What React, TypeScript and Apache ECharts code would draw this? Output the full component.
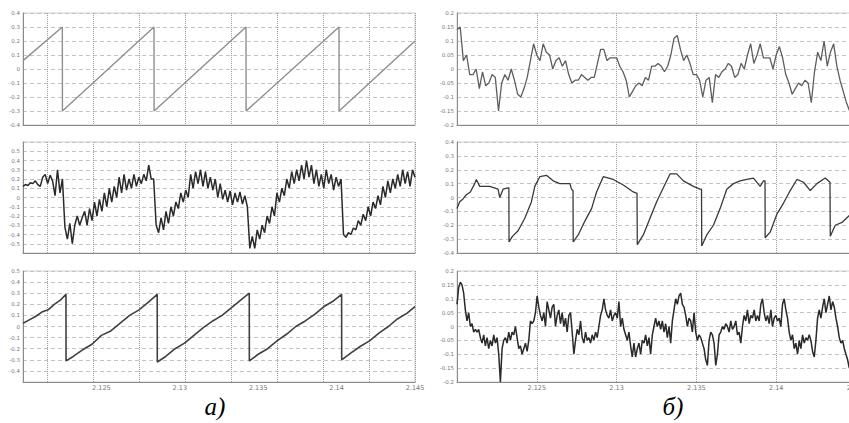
import React, { useEffect, useRef } from 'react';
import * as echarts from 'echarts';

// ---- axis extents ----
const tStart = 2.12;
const tEnd = 2.145;
const tStep = 0.005;

// spacing of the dotted vertical grid of the left (а) column, counted back from its right edge (s)
const leftGridStep = 0.002934;

// ---- а) top: ideal sawtooth ----
const l1T = [2.12, 2.122509, 2.122515, 2.128355, 2.128361, 2.134222, 2.134228, 2.140154, 2.14016, 2.145];
const l1V = [0.06, 0.3, -0.3, 0.3, -0.3, 0.3, -0.3, 0.3, -0.3, 0.2];

// ---- а) middle: noisy sawtooth (uniform samples over 2.12..2.145) ----
const l2V = [
  0.12, 0.14, 0.13, 0.16, 0.15, 0.18, 0.14, 0.12,
  0.22, 0.25, 0.15, 0.24,
  0.18, 0.02, 0.3, 0.05, 0.2,
  -0.32, -0.45, -0.28, -0.5, -0.3, -0.2, -0.3, -0.22, -0.15, -0.3, -0.12, -0.25, -0.05,
  -0.2, -0.02, -0.15, 0.05, -0.1, 0.1, -0.05, 0.12, 0.0, 0.22, 0.05, 0.25, 0.08, 0.2, 0.1, 0.25, 0.12, 0.22, 0.15, 0.25, 0.18, 0.35, 0.2, 0.2,
  -0.3, -0.38, -0.22, -0.35, -0.15, -0.28, -0.1, -0.2, -0.05, -0.12, 0.05, -0.05, 0.08, 0.0,
  0.25, 0.1, 0.28, 0.15, 0.3, 0.12, 0.28, 0.1, 0.22, 0.08, 0.2, 0.0, 0.15, -0.02, 0.08, -0.05, 0.07, -0.08, 0.05, -0.05, 0.06, -0.07, 0.02, -0.1,
  -0.55, -0.42, -0.55, -0.35, -0.45, -0.3, -0.38, -0.2, -0.28, -0.1, -0.2, 0.05, -0.05, 0.1, 0.02,
  0.2, 0.1, 0.28, 0.15, 0.3, 0.18, 0.35, 0.2, 0.4, 0.22, 0.35, 0.15, 0.3, 0.12, 0.25, 0.1, 0.3, 0.15, 0.25, 0.08, 0.22, 0.12, 0.2,
  -0.4, -0.43, -0.38, -0.4, -0.33, -0.35, -0.25, -0.3, -0.18, -0.25, -0.1, -0.2, -0.05, -0.12, 0.02, -0.08, 0.12, 0.0, 0.18, 0.05, 0.2, 0.1, 0.25, 0.12, 0.3, 0.15, 0.28, 0.12, 0.3, 0.22,
];

// ---- а) bottom: sawtooth with small ripple ----
const l3T = [
  2.12, 2.1204, 2.1208, 2.1212, 2.1216, 2.122, 2.1224, 2.12274, 2.122745,
  2.1232, 2.1238, 2.1244, 2.125, 2.1256, 2.1262, 2.1268, 2.1274, 2.128, 2.12856, 2.128565,
  2.1291, 2.1297, 2.1303, 2.1309, 2.1315, 2.1321, 2.1327, 2.1333, 2.1339, 2.13443, 2.134435,
  2.135, 2.1356, 2.1362, 2.1368, 2.1374, 2.138, 2.1386, 2.1392, 2.1398, 2.14032, 2.140325,
  2.1409, 2.1415, 2.1421, 2.1427, 2.1433, 2.1439, 2.1445, 2.145,
];
const l3V = [
  0.03, 0.06, 0.09, 0.13, 0.15, 0.2, 0.24, 0.29, -0.31,
  -0.27, -0.21, -0.16, -0.08, -0.04, 0.03, 0.1, 0.15, 0.22, 0.29, -0.32,
  -0.27, -0.2, -0.15, -0.08, -0.01, 0.05, 0.1, 0.17, 0.24, 0.3, -0.31,
  -0.25, -0.2, -0.13, -0.07, 0.0, 0.05, 0.11, 0.18, 0.23, 0.29, -0.3,
  -0.24, -0.18, -0.13, -0.06, 0.0, 0.07, 0.12, 0.18,
];

// ---- б) top: uniform samples every 0.2 ms from 2.12 ----
const r1Step = 0.0002;
const r1V = [
  0.14, 0.15, 0.03, 0.05, -0.02, -0.02, 0.0, -0.07, -0.01, -0.06,
  -0.05, -0.02, -0.03, -0.15, -0.05, -0.02, -0.04, 0.0, -0.04, -0.09,
  -0.1, -0.07, -0.03, 0.03, 0.09, 0.05, 0.03, 0.09, 0.06, 0.05,
  0.0, 0.03, 0.04, 0.01, 0.03, -0.02, -0.05, -0.04, -0.04, -0.02,
  -0.03, -0.04, -0.03, -0.03, 0.02, 0.07, 0.07, 0.03, 0.04, 0.04,
  0.04, 0.01, -0.01, -0.04, -0.1, -0.08, -0.06, -0.05, -0.06, -0.03,
  -0.04, 0.01, 0.01, 0.02, 0.01, -0.01, 0.01, 0.05, 0.11, 0.12,
  0.07, 0.03, 0.05, 0.02, -0.02, -0.02, -0.04, -0.1, -0.04, -0.03,
  -0.12, -0.02, -0.03, -0.01, 0.0, 0.02, 0.01, -0.03, -0.02, 0.02,
  0.0, 0.05, 0.09, 0.02, 0.05, 0.09, 0.04, 0.04, 0.04, 0.0,
  0.05, 0.08, 0.04, -0.02, -0.05, -0.09, -0.07, -0.05, -0.06, -0.04,
  -0.05, -0.12, -0.01, 0.06, 0.03, 0.1, 0.01, 0.06, 0.09, 0.01,
  -0.04, -0.08, -0.12, -0.15,
];

// ---- б) middle: times in ms after 2.12 s ----
const r2Ms = [
  0, 0.167, 0.377, 0.586, 0.837, 1.109, 1.213, 1.423, 1.632, 2.05,
  2.573, 2.678, 2.887, 3.201, 3.25, 3.26, 3.473, 3.828, 4.247, 4.665,
  4.874, 5.188, 5.607, 6.025, 6.443, 7.07, 7.176, 7.27, 7.28, 7.594,
  8.012, 8.431, 8.745, 9.163, 9.791, 10.418, 11.046, 11.28, 11.297, 11.673,
  12.092, 12.51, 12.929, 13.347, 13.765, 14.184, 14.811, 15.23, 15.32, 15.334,
  15.648, 16.066, 16.485, 16.903, 17.322, 17.74, 18.159, 18.577, 18.995, 19.205,
  19.3, 19.309, 19.623, 20.041, 20.46, 20.878, 21.296, 21.715, 22.133, 22.552,
  23.075, 23.37, 23.388, 23.702, 24.12, 24.581,
];
const r2V = [
  -0.08, -0.03, -0.01, 0.02, 0.04, 0.1, 0.13, 0.08, 0.08, 0.08,
  0.06, 0.0, 0.06, 0.07, 0.07, -0.32, -0.28, -0.24, -0.15, -0.03,
  0.08, 0.15, 0.16, 0.12, 0.1, 0.1, 0.06, 0.05, -0.32, -0.27,
  -0.17, -0.08, 0.04, 0.15, 0.13, 0.09, 0.04, 0.03, -0.34, -0.27,
  -0.15, -0.03, 0.07, 0.17, 0.17, 0.12, 0.08, 0.06, 0.06, -0.35,
  -0.27, -0.2, -0.08, 0.06, 0.1, 0.12, 0.13, 0.14, 0.08, 0.12,
  0.12, -0.29, -0.25, -0.12, -0.04, 0.05, 0.13, 0.11, 0.05, 0.1,
  0.14, 0.11, -0.28, -0.2, -0.18, -0.13,
];

// ---- б) bottom: uniform samples over 24.58 ms from 2.12 ----
const r3Span = 0.02458;
const r3V = [
  0.08, 0.14, 0.16, 0.15, 0.12, 0.06, 0.02, 0.05,
  0.0, 0.01, -0.02, -0.01, -0.02, -0.01, -0.04, -0.06, -0.03, -0.07,
  -0.04, -0.08, -0.05, -0.07, -0.03, -0.06, -0.04, -0.1, -0.2, -0.08,
  -0.05, -0.04, -0.06, -0.02, -0.05, -0.02, -0.03, 0.0, -0.04, -0.08,
  -0.07, -0.1, -0.08, -0.06, -0.09, -0.05, 0.02, 0.01, 0.02, 0.05,
  0.11, 0.07, 0.04, 0.02, 0.05, 0.0, 0.09, 0.06, 0.03, 0.07,
  0.08, 0.0, 0.04, 0.06, 0.01, 0.05, 0.0, 0.03, -0.02, 0.04,
  0.05, -0.02, -0.1, -0.05, -0.01, -0.03, 0.02, -0.04, -0.06, -0.02,
  -0.05, -0.04, -0.06, -0.03, -0.05, -0.02, -0.04, 0.0, 0.04, 0.06,
  0.1, 0.06, 0.04, 0.03, 0.06, 0.02, 0.04, 0.05, 0.03, 0.09,
  0.0, 0.03, -0.01, -0.03, -0.05, -0.02, -0.07, -0.11, -0.06, -0.11,
  -0.08, -0.06, -0.1, -0.05, -0.06, -0.03, -0.07, -0.04, -0.1, -0.03,
  0.0, 0.03, 0.0, 0.02, -0.01, 0.02, -0.02, 0.01, -0.04, 0.0,
  -0.06, 0.02, 0.06, 0.1, 0.08, 0.11, 0.12, 0.08, 0.07, 0.04,
  0.0, 0.03, 0.02, -0.02, 0.05, -0.02, -0.05, -0.03, -0.04, -0.06,
  -0.08, -0.12, -0.14, -0.05, -0.02, -0.03, -0.06, -0.14, -0.1, -0.03,
  -0.02, 0.0, -0.01, 0.01, 0.0, -0.02, 0.02, -0.01, 0.0, 0.02,
  -0.03, -0.02, -0.06, 0.0, 0.04, 0.02, 0.06, 0.01, 0.04, 0.03,
  0.06, 0.02, 0.04, 0.02, 0.08, 0.1, 0.05, 0.02, 0.04, 0.01,
  0.06, 0.0, 0.03, 0.04, 0.02, 0.03, 0.0, 0.08, 0.1, 0.06,
  0.03, -0.02, -0.05, -0.03, -0.08, -0.06, -0.1, -0.05, -0.08, -0.03,
  -0.06, -0.04, -0.05, -0.03, -0.05, -0.09, -0.11, -0.05, 0.03, 0.06,
  0.03, 0.07, 0.1, 0.05, 0.08, 0.11, 0.06, 0.09, 0.07, 0.03,
  0.0, -0.04, -0.06, -0.05, -0.08, -0.1, -0.12, -0.15,
];

// y axis: [min, max, interval, hidden labels]
const yAxesSpec: [number, number, number, number[]][] = [
  [-0.4, 0.4, 0.1, []],
  [-0.6, 0.6, 0.1, [0.6, -0.6]],
  [-0.5, 0.5, 0.1, [-0.5]],
  [-0.2, 0.2, 0.05, []],
  [-0.4, 0.4, 0.1, []],
  [-0.2, 0.2, 0.05, []],
];

const panelLabels = ['а)', 'б)'];

const pairs = (t: number[], v: number[]) => t.map((x, i) => [x, v[i]]);
const uniform = (v: number[], step: number) => v.map((y, i) => [tStart + i * step, y]);

export default function App() {
  const ref = useRef<HTMLDivElement>(null);
  useEffect(() => {
    if (!ref.current) return;
    const chart = echarts.init(ref.current, undefined, { renderer: 'svg' });

    const grids = [
      { left: 23, top: 13, width: 392, height: 112 },
      { left: 23, top: 142, width: 392, height: 111 },
      { left: 23, top: 271, width: 392, height: 111 },
      { left: 457, top: 13, width: 399, height: 112 },
      { left: 457, top: 142, width: 399, height: 111 },
      { left: 457, top: 271, width: 399, height: 111 },
    ].map((g) => ({
      ...g,
      show: true,
      containLabel: false,
      outerBoundsMode: 'none',
      borderColor: '#cfcfcf',
      borderWidth: 1,
      backgroundColor: '#fff',
    }));

    const xAxes: any[] = grids.map((_, i) => ({
      type: 'value',
      gridIndex: i,
      min: tStart,
      max: tEnd,
      interval: tStep,
      axisLine: { show: true, onZero: false, lineStyle: { color: '#8a8a8a', width: 1 } },
      axisTick: { show: false },
      axisLabel: {
        show: i === 2 || i === 5,
        fontSize: 6.5,
        color: '#777',
        margin: 2,
        fontFamily: 'DejaVu Sans',
        formatter: (v: number) => {
          const r = Math.round(v * 1000) / 1000;
          return r <= tStart ? '' : String(r);
        },
      },
      splitLine: { show: i >= 3, lineStyle: { type: 'dotted', color: '#9a9a9a', width: 1 } },
    }));
    // left column: dotted vertical grid counted back from the right edge (time before 2.145 s)
    [0, 1, 2].forEach((i) => {
      xAxes.push({
        type: 'value',
        gridIndex: i,
        position: 'top',
        inverse: true,
        min: 0,
        max: tEnd - tStart,
        interval: leftGridStep,
        axisLine: { show: false },
        axisTick: { show: false },
        axisLabel: { show: false },
        splitLine: { show: true, lineStyle: { type: 'dotted', color: '#9a9a9a', width: 1 } },
      });
    });

    const yAxes = yAxesSpec.map(([mn, mx, iv, hidden], i) => ({
      type: 'value',
      gridIndex: i,
      min: mn,
      max: mx,
      interval: iv,
      axisLine: { show: true, onZero: false, lineStyle: { color: '#8a8a8a', width: 1 } },
      axisTick: { show: false },
      axisLabel: {
        fontSize: 5.5,
        color: '#777',
        margin: 3,
        fontFamily: 'DejaVu Sans',
        formatter: (v: number) => {
          const r = Math.round(v * 100) / 100;
          if (hidden.some((h) => Math.abs(h - r) < 1e-9)) return '';
          return String(r === 0 ? 0 : r);
        },
      },
      splitLine: { show: true, lineStyle: { type: [4, 3], color: '#c4c4c4', width: 1 } },
    }));

    const dataSets = [
      pairs(l1T, l1V),
      uniform(l2V, (tEnd - tStart) / (l2V.length - 1)),
      pairs(l3T, l3V),
      uniform(r1V, r1Step),
      pairs(r2Ms.map((ms) => tStart + ms / 1000), r2V),
      uniform(r3V, r3Span / (r3V.length - 1)),
    ];
    const colors = ['#8e8e8e', '#2a2a2a', '#404040', '#5e5e5e', '#3a3a3a', '#2a2a2a'];
    const widths = [1.4, 1.5, 1.6, 1.3, 1.3, 1.5];

    const series: any[] = dataSets.map((d, i) => ({
      type: 'line',
      xAxisIndex: i,
      yAxisIndex: i,
      data: d,
      showSymbol: false,
      symbol: 'none',
      clip: true,
      lineStyle: { color: colors[i], width: widths[i] },
    }));

    chart.setOption({
      animation: false,
      backgroundColor: '#fff',
      grid: grids,
      xAxis: xAxes,
      yAxis: yAxes,
      series,
      graphic: [
        {
          type: 'text',
          x: 215,
          y: 406,
          style: {
            text: panelLabels[0],
            font: 'italic 25px "Liberation Serif"',
            fill: '#000',
            align: 'center',
            verticalAlign: 'middle',
          },
        },
        {
          type: 'text',
          x: 673,
          y: 406,
          style: {
            text: panelLabels[1],
            font: 'italic 25px "Liberation Serif"',
            fill: '#000',
            align: 'center',
            verticalAlign: 'middle',
          },
        },
      ],
    });
    return () => chart.dispose();
  }, []);

  return (
    <div
      ref={ref}
      style={{ position: 'fixed', left: 0, top: 0, width: 849, height: 423, background: '#fff' }}
    />
  );
}
